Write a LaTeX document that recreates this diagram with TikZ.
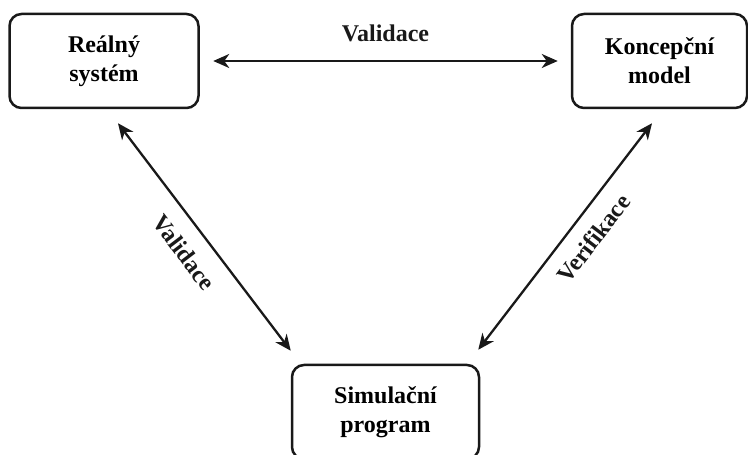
\documentclass[tikz,border=0pt]{standalone}
\usepackage{fontspec}
\setmainfont{Liberation Serif}
\usetikzlibrary{arrows.meta}
\begin{document}
\begin{tikzpicture}[x=1pt,y=1pt,
  box/.style={draw=black!90, line width=2.5pt, rounded corners=12pt, minimum height=94pt, align=center,
    font=\fontsize{24}{29}\selectfont\bfseries, inner sep=0pt},
  conn/.style={draw=black!90, line width=2.3pt,
    {Stealth[length=16pt,width=14pt,inset=5pt]}-{Stealth[length=16pt,width=14pt,inset=5pt]}},
  lbl/.style={font=\fontsize{24}{29}\selectfont\bfseries, inner sep=0pt, text=black!90}]
\useasboundingbox (0,0) rectangle (748,455);
\node[box, minimum width=189pt] (b1) at (104,394) {Reálný\\systém};
\node[box, minimum width=175pt] (b2) at (659.5,394) {Koncepční\\model};
\node[box, minimum width=187pt] (b3) at (385.5,43) {Simulační\\program};
\draw[conn] ([xshift=13.5pt]b1.east) -- node[lbl, midway, above=18pt] {Validace} ([xshift=-13pt]b2.west);
\draw[conn] ([xshift=14pt,yshift=-14pt]b1.south) -- node[lbl, pos=0.5, sloped, below=16pt] {Validace} ([yshift=13pt]b3.north west);
\draw[conn] ([xshift=-2pt,yshift=14pt]b3.north east) -- node[lbl, pos=0.555, sloped, below=14pt] {Verifikace} ([xshift=-7.5pt,yshift=-14pt]b2.south);
\end{tikzpicture}
\end{document}
